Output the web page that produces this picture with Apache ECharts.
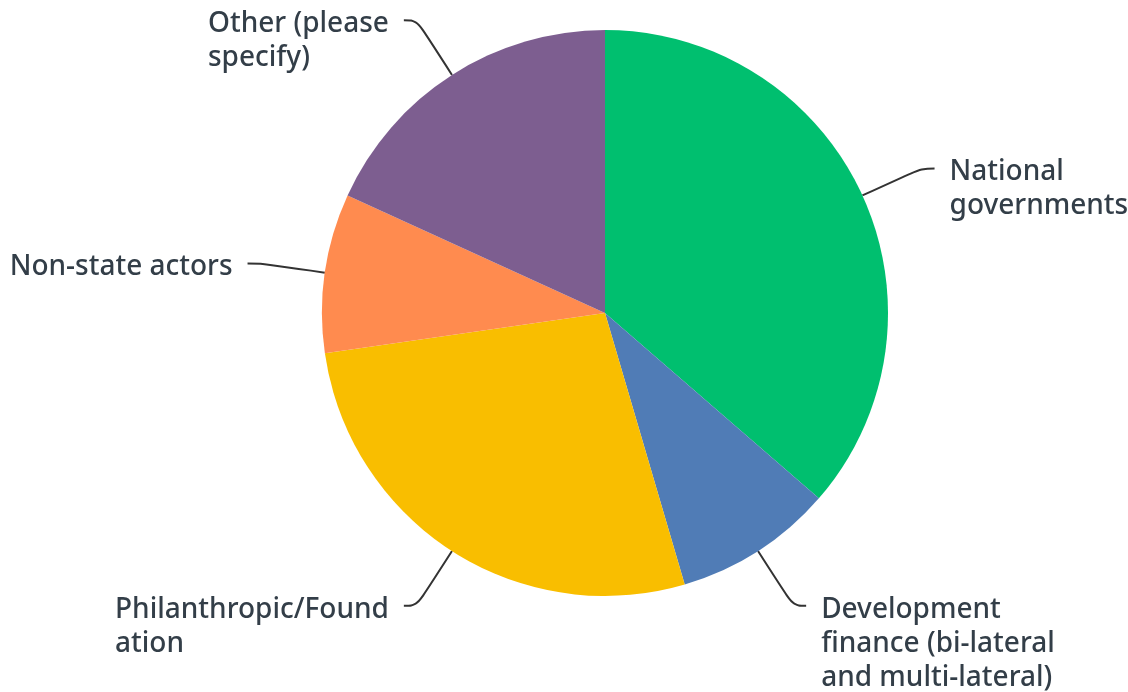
<!DOCTYPE html>
<html>
<head>
<meta charset="utf-8">
<style>
  html, body { margin: 0; padding: 0; background: #ffffff; }
  #chart { width: 1128px; height: 692px; }
</style>
<script src="https://cdn.jsdelivr.net/npm/echarts@6/dist/echarts.min.js"></script>
</head>
<body>
<div id="chart"></div>
<script>
// Funding sources, response counts
const categories = [
  'National\ngovernments',
  'Development\nfinance (bi-lateral\nand multi-lateral)',
  'Philanthropic/Found\nation',
  'Non-state actors',
  'Other (please\nspecify)'
];
const counts = [4, 1, 3, 1, 2];
const colors = ['#00BF6F', '#507CB6', '#F9BE00', '#FF8B4F', '#7D5E90'];

const LINE_H = 34;   // text line height
const GAP = 15;      // space between guide line end and text
const TEXT_DY = 4;   // optical nudge so the first line centres on the line end

const chart = echarts.init(document.getElementById('chart'), null, { renderer: 'canvas' });

const data = categories.map((name, i) => ({
  name: name,
  value: counts[i],
  itemStyle: { color: colors[i] }
}));

chart.setOption({
  animation: false,
  backgroundColor: '#ffffff',
  series: [{
    type: 'pie',
    center: [605, 313],
    radius: 283,
    startAngle: 90,
    clockwise: true,
    avoidLabelOverlap: false,
    data: data,
    label: {
      show: true,
      position: 'outside',
      formatter: '{b}',
      fontFamily: '"Noto Sans", sans-serif',
      fontSize: 28,
      fontWeight: 500,
      lineHeight: LINE_H,
      color: '#333e48',
      bleedMargin: 0
    },
    labelLine: {
      show: true,
      length: 65,
      length2: 13,
      smooth: 0.4,
      lineStyle: { color: '#333333', width: 2 }
    },
    // left-aligned text blocks whose first line sits level with the guide line end
    labelLayout: function (p) {
      const pts = p.labelLinePoints;
      if (!pts) return {};
      const start = pts[0];
      const end = pts[pts.length - 1];
      const onLeft = end[0] < start[0];
      return {
        x: onLeft ? end[0] - GAP - p.labelRect.width : end[0] + GAP,
        y: end[1] - LINE_H / 2 + TEXT_DY,
        align: 'left',
        verticalAlign: 'top',
        labelLinePoints: pts
      };
    },
    emphasis: { disabled: true }
  }]
});
</script>
</body>
</html>
